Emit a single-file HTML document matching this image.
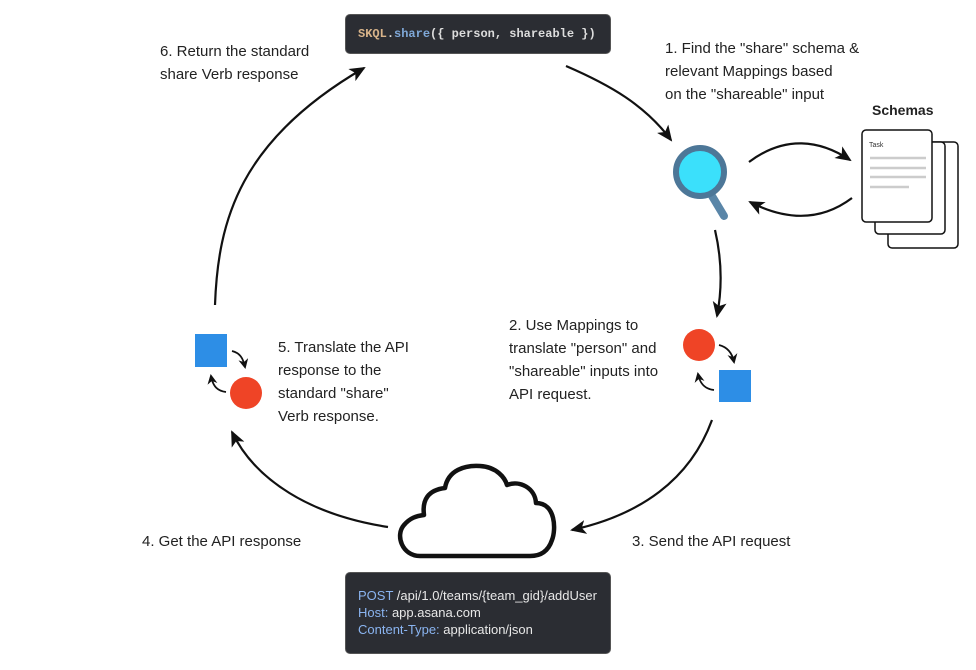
<!DOCTYPE html>
<html><head><meta charset="utf-8"><style>
body{margin:0;width:976px;height:670px;background:#fff;overflow:hidden;position:relative;font-family:"Liberation Sans",sans-serif;}
.t{position:absolute;font-size:15px;line-height:23px;color:#222;}
.box{position:absolute;background:#2b2d33;border-radius:5px;border:1px solid #555;}
</style></head><body>
<svg width="976" height="670" style="position:absolute;left:0;top:0">
<defs><marker id="a" markerWidth="10" markerHeight="10" refX="8" refY="5" orient="auto" markerUnits="userSpaceOnUse"><path d="M0,0 L10,5 L0,10 L3,5 z" fill="#111"/></marker>
<marker id="b" markerWidth="16" markerHeight="16" refX="14" refY="8" orient="auto" markerUnits="userSpaceOnUse"><path d="M0,1 L16,8 L0,15 L4,8 z" fill="#111"/></marker></defs>
<g fill="none" stroke="#111" stroke-width="2.2">
<path d="M215,305 C218,220 240,140 364,68" marker-end="url(#b)"/>
<path d="M566,66 C610,85 645,105 671,140" marker-end="url(#b)"/>
<path d="M749,162 C785,135 820,140 850,160" marker-end="url(#b)"/>
<path d="M852,198 C820,222 785,220 750,202" marker-end="url(#b)"/>
<path d="M715,230 C722,260 722,290 717,316" marker-end="url(#b)"/>
<path d="M712,420 C690,480 640,515 572,530" marker-end="url(#b)"/>
<path d="M388,527 C310,515 255,480 232,432" marker-end="url(#b)"/>
<path d="M232,351 C240,353 243,358 245,367" stroke-width="1.8" marker-end="url(#a)"/>
<path d="M226,392 C218,391 213,387 211,376" stroke-width="1.8" marker-end="url(#a)"/>
<path d="M719,345 C727,347 732,352 734,362" stroke-width="1.8" marker-end="url(#a)"/>
<path d="M714,390 C705,389 700,384 698,374" stroke-width="1.8" marker-end="url(#a)"/>
</g>
<rect x="195" y="334" width="32" height="33" fill="#2d8ee6"/>
<circle cx="246" cy="393" r="16" fill="#ef4426"/>
<circle cx="699" cy="345" r="16" fill="#ef4426"/>
<rect x="719" y="370" width="32" height="32" fill="#2d8ee6"/>
<line x1="712" y1="196" x2="724" y2="216" stroke="#5a86a8" stroke-width="8" stroke-linecap="round"/>
<circle cx="700" cy="172" r="24" fill="#3be0fb" stroke="#4d7798" stroke-width="6"/>
<path d="M420,556 C402,556 395,535 404,525 C410,518 416,516 424,515 C422,500 428,490 445,488 C448,470 465,465 480,466 C497,467 505,478 507,485 C520,480 535,488 536,503 C556,503 556,530 552,540 C548,552 540,556 530,556 Z" fill="#fff" stroke="#111" stroke-width="4.5" stroke-linejoin="round"/>
<g stroke="#111" stroke-width="1.5" fill="#fff">
<rect x="888" y="142" width="70" height="106" rx="4"/>
<rect x="875" y="142" width="70" height="92" rx="4"/>
<rect x="862" y="130" width="70" height="92" rx="4"/>
</g>
<g stroke="#ccc" stroke-width="2.5"><line x1="870" y1="158" x2="926" y2="158"/><line x1="870" y1="168" x2="926" y2="168"/><line x1="870" y1="177" x2="926" y2="177"/><line x1="870" y1="187" x2="909" y2="187"/></g>
<text x="869" y="147" font-size="7" fill="#333" font-family="Liberation Sans">Task</text>
</svg>
<div class="box" style="left:345px;top:14px;width:264px;height:38px;"><div style="position:absolute;left:12px;top:12px;font-family:'Liberation Mono',monospace;font-size:12px;color:#ddd;white-space:pre;font-weight:bold"><span style="color:#d8b48a">SKQL</span>.<span style="color:#7fa8d8">share</span>({ person, shareable })</div></div>
<div class="box" style="left:345px;top:572px;width:264px;height:80px;"><div style="position:absolute;left:12px;top:14px;font-size:13px;line-height:17px;color:#e8e8e8;"><span style="color:#8ab4f0">POST</span> /api/1.0/teams/{team_gid}/addUser<br><span style="color:#8ab4f0">Host:</span> app.asana.com<br><span style="color:#8ab4f0">Content-Type:</span> application/json</div></div>
<div class="t" style="left:160px;top:40px">6. Return the standard<br>share Verb response</div>
<div class="t" style="left:665px;top:37px">1. Find the "share" schema &amp;<br>relevant Mappings based<br>on the "shareable" input</div>
<div class="t" style="left:872px;top:99px;font-weight:bold;font-size:14px">Schemas</div>
<div class="t" style="left:509px;top:314px">2. Use Mappings to<br>translate "person" and<br>"shareable" inputs into<br>API request.</div>
<div class="t" style="left:278px;top:336px">5. Translate the API<br>response to the<br>standard "share"<br>Verb response.</div>
<div class="t" style="left:142px;top:530px">4. Get the API response</div>
<div class="t" style="left:632px;top:530px">3. Send the API request</div>
</body></html>
